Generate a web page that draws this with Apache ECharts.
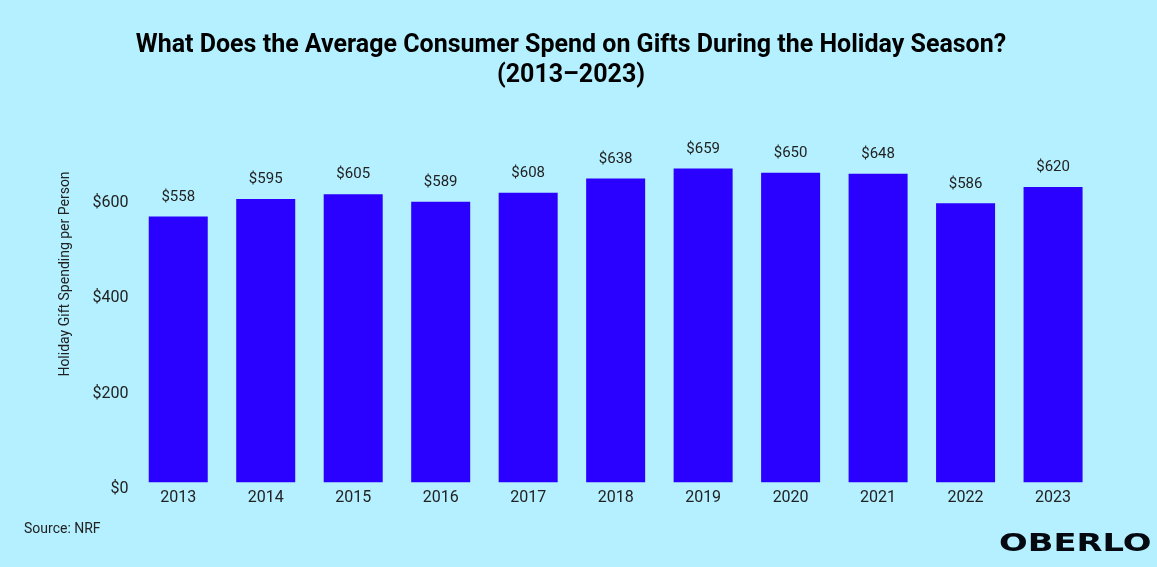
<!DOCTYPE html>
<html><head><meta charset="utf-8">
<script src="https://cdn.jsdelivr.net/npm/echarts@6/dist/echarts.min.js"></script>
<style>html,body{margin:0;padding:0;background:#b4f0ff}#c{width:1157px;height:567px}</style>
</head><body><div id="c"></div>
<script>
const years = ['2013','2014','2015','2016','2017','2018','2019','2020','2021','2022','2023'];
const spending = [558,595,605,589,608,638,659,650,648,586,620];
const yTicks = [0,200,400,600];

const chart = echarts.init(document.getElementById('c'));
chart.setOption({
  backgroundColor:'#b4f0ff',
  animation:false,
  title:{
    text:'What Does the Average Consumer Spend on Gifts During the Holiday Season?\n(2013–2023)',
    left:566, textAlign:'center', top:26,
    textStyle:{fontFamily:'Roboto',fontWeight:'bold',fontSize:25,lineHeight:30,color:'#000'}
  },
  grid:{left:134.5,right:60.2,top:149,bottom:84.7},
  xAxis:{
    type:'category', data:years,
    axisLine:{show:false}, axisTick:{show:false},
    axisLabel:{fontFamily:'Roboto',fontSize:16,color:'#222',margin:8}
  },
  yAxis:{
    type:'value', min:0, max:700, interval:200,
    splitLine:{show:false}, axisLine:{show:false}, axisTick:{show:false},
    axisLabel:{fontFamily:'Roboto',fontSize:16,color:'#222',margin:6,showMaxLabel:false,
      verticalAlign:'top', lineHeight:13,
      formatter:v=> yTicks.includes(v) ? '$'+v : ''}
  },
  series:[{
    type:'bar', data:spending, barWidth:59,
    itemStyle:{color:'#2a00ff'},
    label:{show:true,position:'top',distance:12,fontFamily:'Roboto',fontSize:15,color:'#222',
      formatter:p=>'$'+p.value}
  }],
  graphic:[
    {type:'text', x:65, y:274, rotation:Math.PI/2, style:{text:'Holiday Gift Spending per Person',
      fontFamily:'Roboto',fontSize:14,fill:'#222',align:'center',verticalAlign:'middle'}},
    {type:'text', left:24, top:522, style:{text:'Source: NRF',fontFamily:'Roboto',fontSize:14,fill:'#222'}},
    {type:'text', x:999, y:544, scaleX:1.35, style:{text:'OBERLO',fontFamily:'DejaVu Sans',fontWeight:'bold',fontSize:25,fill:'#050a10',verticalAlign:'middle'}}
  ]
});
</script></body></html>
